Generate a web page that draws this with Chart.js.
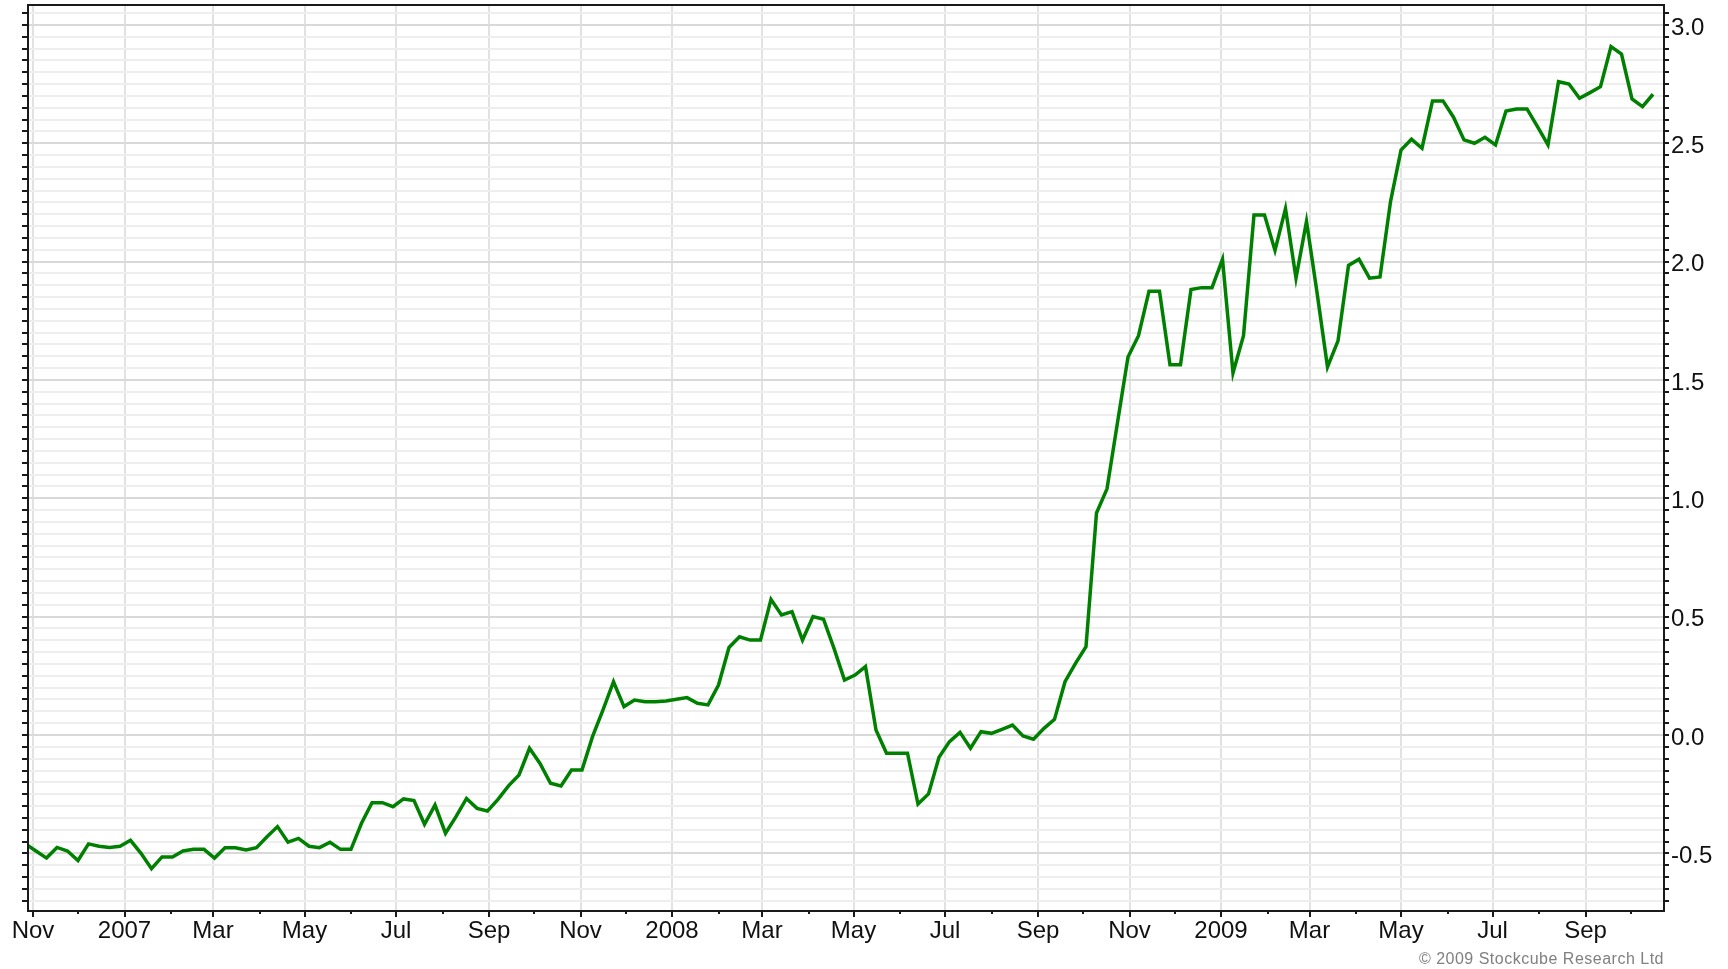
<!DOCTYPE html>
<html>
<head>
<meta charset="utf-8">
<script src="https://cdn.jsdelivr.net/npm/chart.js@4.4.1/dist/chart.umd.min.js"></script>
<style>
  html, body { margin: 0; padding: 0; background: #ffffff; overflow: hidden; }
  canvas { display: block; }
</style>
</head>
<body>
<canvas id="chart" width="1728" height="969"></canvas>
<script>
// ---- data (weekly observations, every Friday) ----
const seriesStart = [2006, 9, 27]; // 27 Oct 2006 (year, monthIndex, day)
const values2006 = [-0.46, -0.49, -0.52, -0.475, -0.49, -0.53, -0.46, -0.47, -0.475, -0.47];
const values2007 = [-0.445, -0.50, -0.565, -0.515, -0.515, -0.49, -0.483, -0.483, -0.52, -0.476,
  -0.476, -0.486, -0.476, -0.43, -0.387, -0.453, -0.437, -0.47, -0.476, -0.453,
  -0.483, -0.483, -0.373, -0.286, -0.286, -0.303, -0.27, -0.277, -0.377, -0.296,
  -0.415, -0.345, -0.268, -0.31, -0.321, -0.272, -0.215, -0.169, -0.056, -0.12,
  -0.204, -0.215, -0.148, -0.148, -0.007, 0.106, 0.225, 0.12, 0.148, 0.141,
  0.141, 0.144];
const values2008 = [0.151, 0.158, 0.134, 0.127, 0.211, 0.37, 0.415, 0.401, 0.401, 0.573,
  0.507, 0.521, 0.401, 0.50, 0.489, 0.366, 0.232, 0.253, 0.289, 0.021,
  -0.077, -0.077, -0.077, -0.292, -0.249, -0.094, -0.028, 0.011, -0.056, 0.014,
  0.007, 0.024, 0.042, -0.004, -0.018, 0.028, 0.066, 0.225, 0.303, 0.373,
  0.938, 1.04, 1.32, 1.597, 1.687, 1.875, 1.875, 1.564, 1.564, 1.882,
  1.89, 1.89];
const values2009 = [2.01, 1.53, 1.687, 2.197, 2.197, 2.047, 2.224, 1.93, 2.17, 1.87,
  1.555, 1.665, 1.984, 2.01, 1.93, 1.935, 2.253, 2.471, 2.517, 2.479,
  2.679, 2.679, 2.61, 2.514, 2.50, 2.525, 2.493, 2.636, 2.645, 2.645,
  2.57, 2.493, 2.76, 2.75, 2.69, 2.714, 2.739, 2.908, 2.877, 2.687,
  2.655, 2.707];

const monthNames = ['Jan','Feb','Mar','Apr','May','Jun','Jul','Aug','Sep','Oct','Nov','Dec'];
const axisFirstMonth = [2006, 10]; // Nov 2006
const axisLastMonth = [2009, 9];   // Oct 2009
const yLabelStep = 0.5;
const yMinorStep = 0.05;
const copyright = '\u00A9 2009 Stockcube Research Ltd';

// ---- helpers ----
const DAY = 86400000;
const base = Date.UTC(2007, 0, 1);
const dayOf = (y, m, d) => (Date.UTC(y, m, d) - base) / DAY;

const allValues = [].concat(values2006, values2007, values2008, values2009);
const startDay = dayOf(seriesStart[0], seriesStart[1], seriesStart[2]);
const points = allValues.map((v, i) => ({ x: startDay + 7 * i, y: v }));

const monthTicks = [];
{
  let y = axisFirstMonth[0], m = axisFirstMonth[1];
  while (y < axisLastMonth[0] || (y === axisLastMonth[0] && m <= axisLastMonth[1])) {
    const major = (m % 2 === 0); // Jan, Mar, May, Jul, Sep, Nov
    monthTicks.push({
      value: dayOf(y, m, 1),
      label: major ? (m === 0 ? String(y) : monthNames[m]) : '',
      major: major
    });
    m++; if (m > 11) { m = 0; y++; }
  }
}

const yTicks = [];
for (let i = -14; i <= 61; i++) yTicks.push(i);

const frame = {
  id: 'frame',
  afterDraw(chart) {
    const { ctx, chartArea: a, scales } = chart;
    const xs = scales.x, ys = scales.y;
    ctx.save();
    ctx.strokeStyle = '#1a1a1a';
    ctx.lineWidth = 2;
    ctx.strokeRect(a.left, a.top, a.right - a.left, a.bottom - a.top);
    ctx.beginPath();
    ys.ticks.forEach(t => {
      const py = Math.round(ys.getPixelForValue(t.value));
      ctx.moveTo(a.left - 6, py); ctx.lineTo(a.left, py);
      ctx.moveTo(a.right, py); ctx.lineTo(a.right + 5, py);
    });
    xs.ticks.forEach((t, i) => {
      const px = Math.round(xs.getPixelForValue(t.value));
      const len = monthTicks[i] && monthTicks[i].major ? 6 : 3;
      ctx.moveTo(px, a.bottom); ctx.lineTo(px, a.bottom + len);
    });
    ctx.stroke();
    ctx.font = '16px "Liberation Sans", Arial, sans-serif';
    ctx.fillStyle = '#808080';
    ctx.textAlign = 'right';
    ctx.textBaseline = 'middle';
    try { ctx.letterSpacing = '0.5px'; } catch (e) {}
    ctx.fillText(copyright, 1664, 960);
    ctx.restore();
  }
};

new Chart(document.getElementById('chart'), {
  type: 'line',
  data: {
    datasets: [{
      data: points,
      borderColor: '#008000',
      borderWidth: 3.5,
      pointRadius: 0,
      tension: 0,
      fill: false
    }]
  },
  options: {
    responsive: false,
    animation: false,
    devicePixelRatio: 1,
    layout: { padding: { left: 28, top: 5, right: 0, bottom: 0 } },
    plugins: { legend: { display: false }, tooltip: { enabled: false } },
    scales: {
      x: {
        type: 'linear',
        min: (28 - 124.5) / 1.5,
        max: (1664 - 124.5) / 1.5,
        afterBuildTicks: s => { s.ticks = monthTicks.map(t => ({ value: t.value })); },
        afterFit: s => { s.height = 58; s.paddingLeft = 0; s.paddingRight = 0; },
        border: { display: false },
        grid: {
          drawTicks: false,
          lineWidth: 2,
          color: c => (monthTicks[c.index] && monthTicks[c.index].major) ? '#e2e2e2' : 'rgba(0,0,0,0)'
        },
        ticks: {
          autoSkip: false,
          maxRotation: 0,
          minRotation: 0,
          padding: 6,
          color: '#111',
          font: { family: '"Liberation Sans", Arial, sans-serif', size: 24 },
          callback: (v, i) => monthTicks[i] ? monthTicks[i].label : ''
        }
      },
      y: {
        type: 'linear',
        position: 'right',
        min: -176 / 236.7,
        max: 730 / 236.7,
        afterBuildTicks: s => { s.ticks = yTicks.map(i => ({ value: i * yMinorStep })); },
        afterFit: s => { s.width = 64; s.paddingTop = 0; s.paddingBottom = 0; },
        border: { display: false },
        grid: {
          drawTicks: false,
          lineWidth: 2,
          color: c => {
            const k = Math.round((c.tick ? c.tick.value : 0) / yMinorStep);
            return (k % 10 === 0) ? '#d9d9d9' : '#eeeeee';
          }
        },
        ticks: {
          autoSkip: false,
          padding: 7,
          labelOffset: 3,
          color: '#111',
          font: { family: '"Liberation Sans", Arial, sans-serif', size: 24 },
          callback: v => {
            const k = Math.round(v / yMinorStep);
            return (k % Math.round(yLabelStep / yMinorStep) === 0) ? (k * yMinorStep).toFixed(1) : '';
          }
        }
      }
    }
  },
  plugins: [frame]
});
</script>
</body>
</html>
